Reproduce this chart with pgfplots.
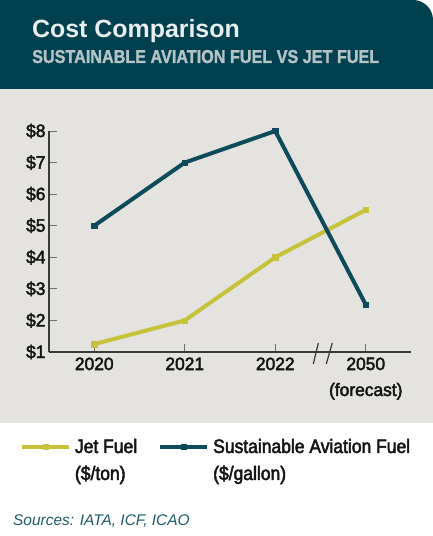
\documentclass[border=0pt]{standalone}
\usepackage{pgfplots}
\pgfplotsset{compat=1.18}
\usepackage{fontspec}
\usepackage{graphicx}
\setmainfont{Liberation Sans}
\newfontfamily\condfont{Liberation Sans}[FakeStretch=0.9, FakeBold=2.5]
\newfontfamily\tickfont{Liberation Sans}[FakeStretch=0.97, FakeBold=2.5]
\newfontfamily\subfont{Liberation Sans}[BoldFeatures={FakeBold=1.5}]
\definecolor{hdr}{HTML}{00404F}
\definecolor{panel}{HTML}{E4E3DF}
\definecolor{saf}{HTML}{0D4B5A}
\definecolor{jet}{HTML}{C6C23B}
\definecolor{subt}{HTML}{B4C4C6}
\definecolor{titlec}{HTML}{E9EEEE}
\definecolor{src}{HTML}{1F5C6A}
\definecolor{axc}{HTML}{3A3A3A}
\definecolor{tickc}{HTML}{707070}
\definecolor{txt}{HTML}{141414}
\begin{document}
\begin{tikzpicture}[x=1bp,y=1bp]
\useasboundingbox (0,0) rectangle (433,-536);
\fill[white] (0,0) rectangle (433,-536);
\fill[panel] (0,-89) rectangle (433,-423);
\fill[hdr] (0,-89) -- (0,0) -- (413,0) arc[start angle=90,end angle=0,radius=20] -- (433,-89) -- cycle;
\node[anchor=base west, inner sep=0, text=titlec, font=\fontsize{25}{30}\selectfont\bfseries] at (32,-37.5) {Cost Comparison};
\node[anchor=base west, inner sep=0, text=subt] at (32,-63) {\resizebox{347bp}{13bp}{\subfont\bfseries SUSTAINABLE AVIATION FUEL VS JET FUEL}};
\node[anchor=base west, inner sep=0, text=src, font=\fontsize{15.5}{18}\selectfont\itshape] at (13,-525) {Sources: IATA, ICF, ICAO};
\begin{axis}[
  at={(49bp,-352bp)}, anchor=south west,
  scale only axis, width=362bp, height=221bp,
  xmin=-0.5, xmax=3.5, ymin=1, ymax=8,
  axis x line=bottom, axis y line=left,
  axis line style={-, draw=axc, line width=1.2bp},
  xtick={0,1,2,3}, xticklabels={2020,2021,2022,{2050\\(forecast)}},
  ytick={1,2,3,4,5,6,7,8}, yticklabels={\$1,\$2,\$3,\$4,\$5,\$6,\$7,\$8},
  tick align=inside, major tick length=8bp,
  tick style={draw=tickc, line width=1bp},
  xticklabel style={align=center, text=txt, font=\tickfont\fontsize{18}{26}\selectfont, yshift=-2bp},
  yticklabel style={text=txt, font=\tickfont\fontsize{18}{22}\selectfont},
  clip=false,
  legend cell align=left,
  legend columns=2,
  legend image code/.code={\draw[#1, mark repeat=2, mark phase=2] plot coordinates {(0bp,0bp) (23.5bp,0bp) (47bp,0bp)};},
  legend style={at={(-0.0801,-0.389)}, anchor=north west, draw=none, fill=none,
    inner sep=0pt, outer sep=0pt, row sep=9bp, column sep=3bp,
    nodes={inner sep=1bp, text height=14bp, text depth=2bp, text=txt},
    font=\condfont\fontsize{19.5}{22}\selectfont,
    /tikz/every even column/.append style={column sep=20bp}},
]
\addplot[jet, line width=4bp, mark=square*, mark size=2.6bp, mark options={line width=0.4bp}] coordinates {(0,1.25) (1,2) (2,4) (3,5.5)};
\addlegendentry{Jet Fuel}
\addplot[saf, line width=4bp, mark=square*, mark size=2.6bp, mark options={line width=0.4bp}] coordinates {(0,5) (1,7) (2,8) (3,2.5)};
\addlegendentry{Sustainable Aviation Fuel}
\addlegendimage{empty legend}
\addlegendentry{(\$/ton)}
\addlegendimage{empty legend}
\addlegendentry{(\$/gallon)}
\draw[axc, line width=1.2bp] (axis cs:2.448,1) ++(-2.5bp,-12bp) -- ++(5bp,21bp);
\draw[axc, line width=1.2bp] (axis cs:2.597,1) ++(-3bp,-12bp) -- ++(6bp,21bp);
\end{axis}
\end{tikzpicture}
\end{document}
